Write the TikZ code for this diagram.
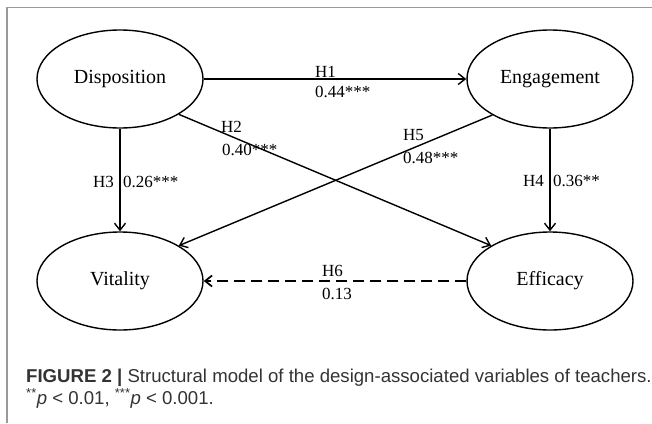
\documentclass[tikz,border=0pt]{standalone}
\usepackage{fontspec}
\setmainfont{Liberation Serif}
\newfontfamily\capfont{Liberation Sans}
\usetikzlibrary{arrows.meta,shapes.geometric}
\begin{document}
\begin{tikzpicture}[>={Straight Barb[length=7pt,width=11pt]},line join=round,x=1pt,y=-1pt,
	var/.style={draw,ellipse,line width=1.4pt,minimum width=166pt,minimum height=98pt,font=\fontsize{20}{24}\selectfont},
	lab/.style={inner sep=0pt,font=\fontsize{17}{20}\selectfont},
	path/.style={->,line width=1.4pt}]
		\useasboundingbox (0,0) rectangle (652,423);
		% frame
		\draw[line width=1.5pt,color=black!40] (652,7.5)--(7,7.5)--(7,423);
		% variables
		\node[var] (dis) at (120,79) {Disposition};
		\node[var] (eng) at (550,79) {Engagement};
		\node[var] (vit) at (120,281) {Vitality};
		\node[var] (eff) at (550,281) {Efficacy};
		% paths
		\draw[path] (dis) -- (eng);
		\draw[path] (dis.-31) -- (eff.149);
		\draw[path] (dis) -- (vit);
		\draw[path] (eng) -- (eff);
		\draw[path] (eng.212) -- (vit.31);
		\draw[path,line width=1.7pt,dash pattern=on 11pt off 6pt] (eff) -- (vit);
		% coefficients
		\node[lab,anchor=base west] (h1) at (315,77) {H1};
		\node[lab,anchor=base west] (c1) at (315,97) {0.44***};
		\node[lab,anchor=base west] (h2) at (221,132) {H2};
		\node[lab,anchor=base west] (c2) at (222,155) {0.40***};
		\node[lab,anchor=base east] (h3) at (114,187) {H3};
		\node[lab,anchor=base west] (c3) at (123,187) {0.26***};
		\node[lab,anchor=base east] (h4) at (544,186) {H4};
		\node[lab,anchor=base west] (c4) at (553,186) {0.36**};
		\node[lab,anchor=base west] (h5) at (403,140) {H5};
		\node[lab,anchor=base west] (c5) at (403,163) {0.48***};
		\node[lab,anchor=base west] (h6) at (322,276) {H6};
		\node[lab,anchor=base west] (c6) at (322,299) {0.13};
		% caption
		\node[anchor=base west,align=left,inner sep=0pt,text=black!80,font=\capfont\fontsize{18.6}{22}\selectfont] (cap) at (26,404)
		{\textbf{FIGURE 2 |} Structural model of the design-associated variables of teachers.\\
		\textsuperscript{**}\textit{p} < 0.01, \textsuperscript{***}\textit{p} < 0.001.};
		\end{tikzpicture}
\end{document}
